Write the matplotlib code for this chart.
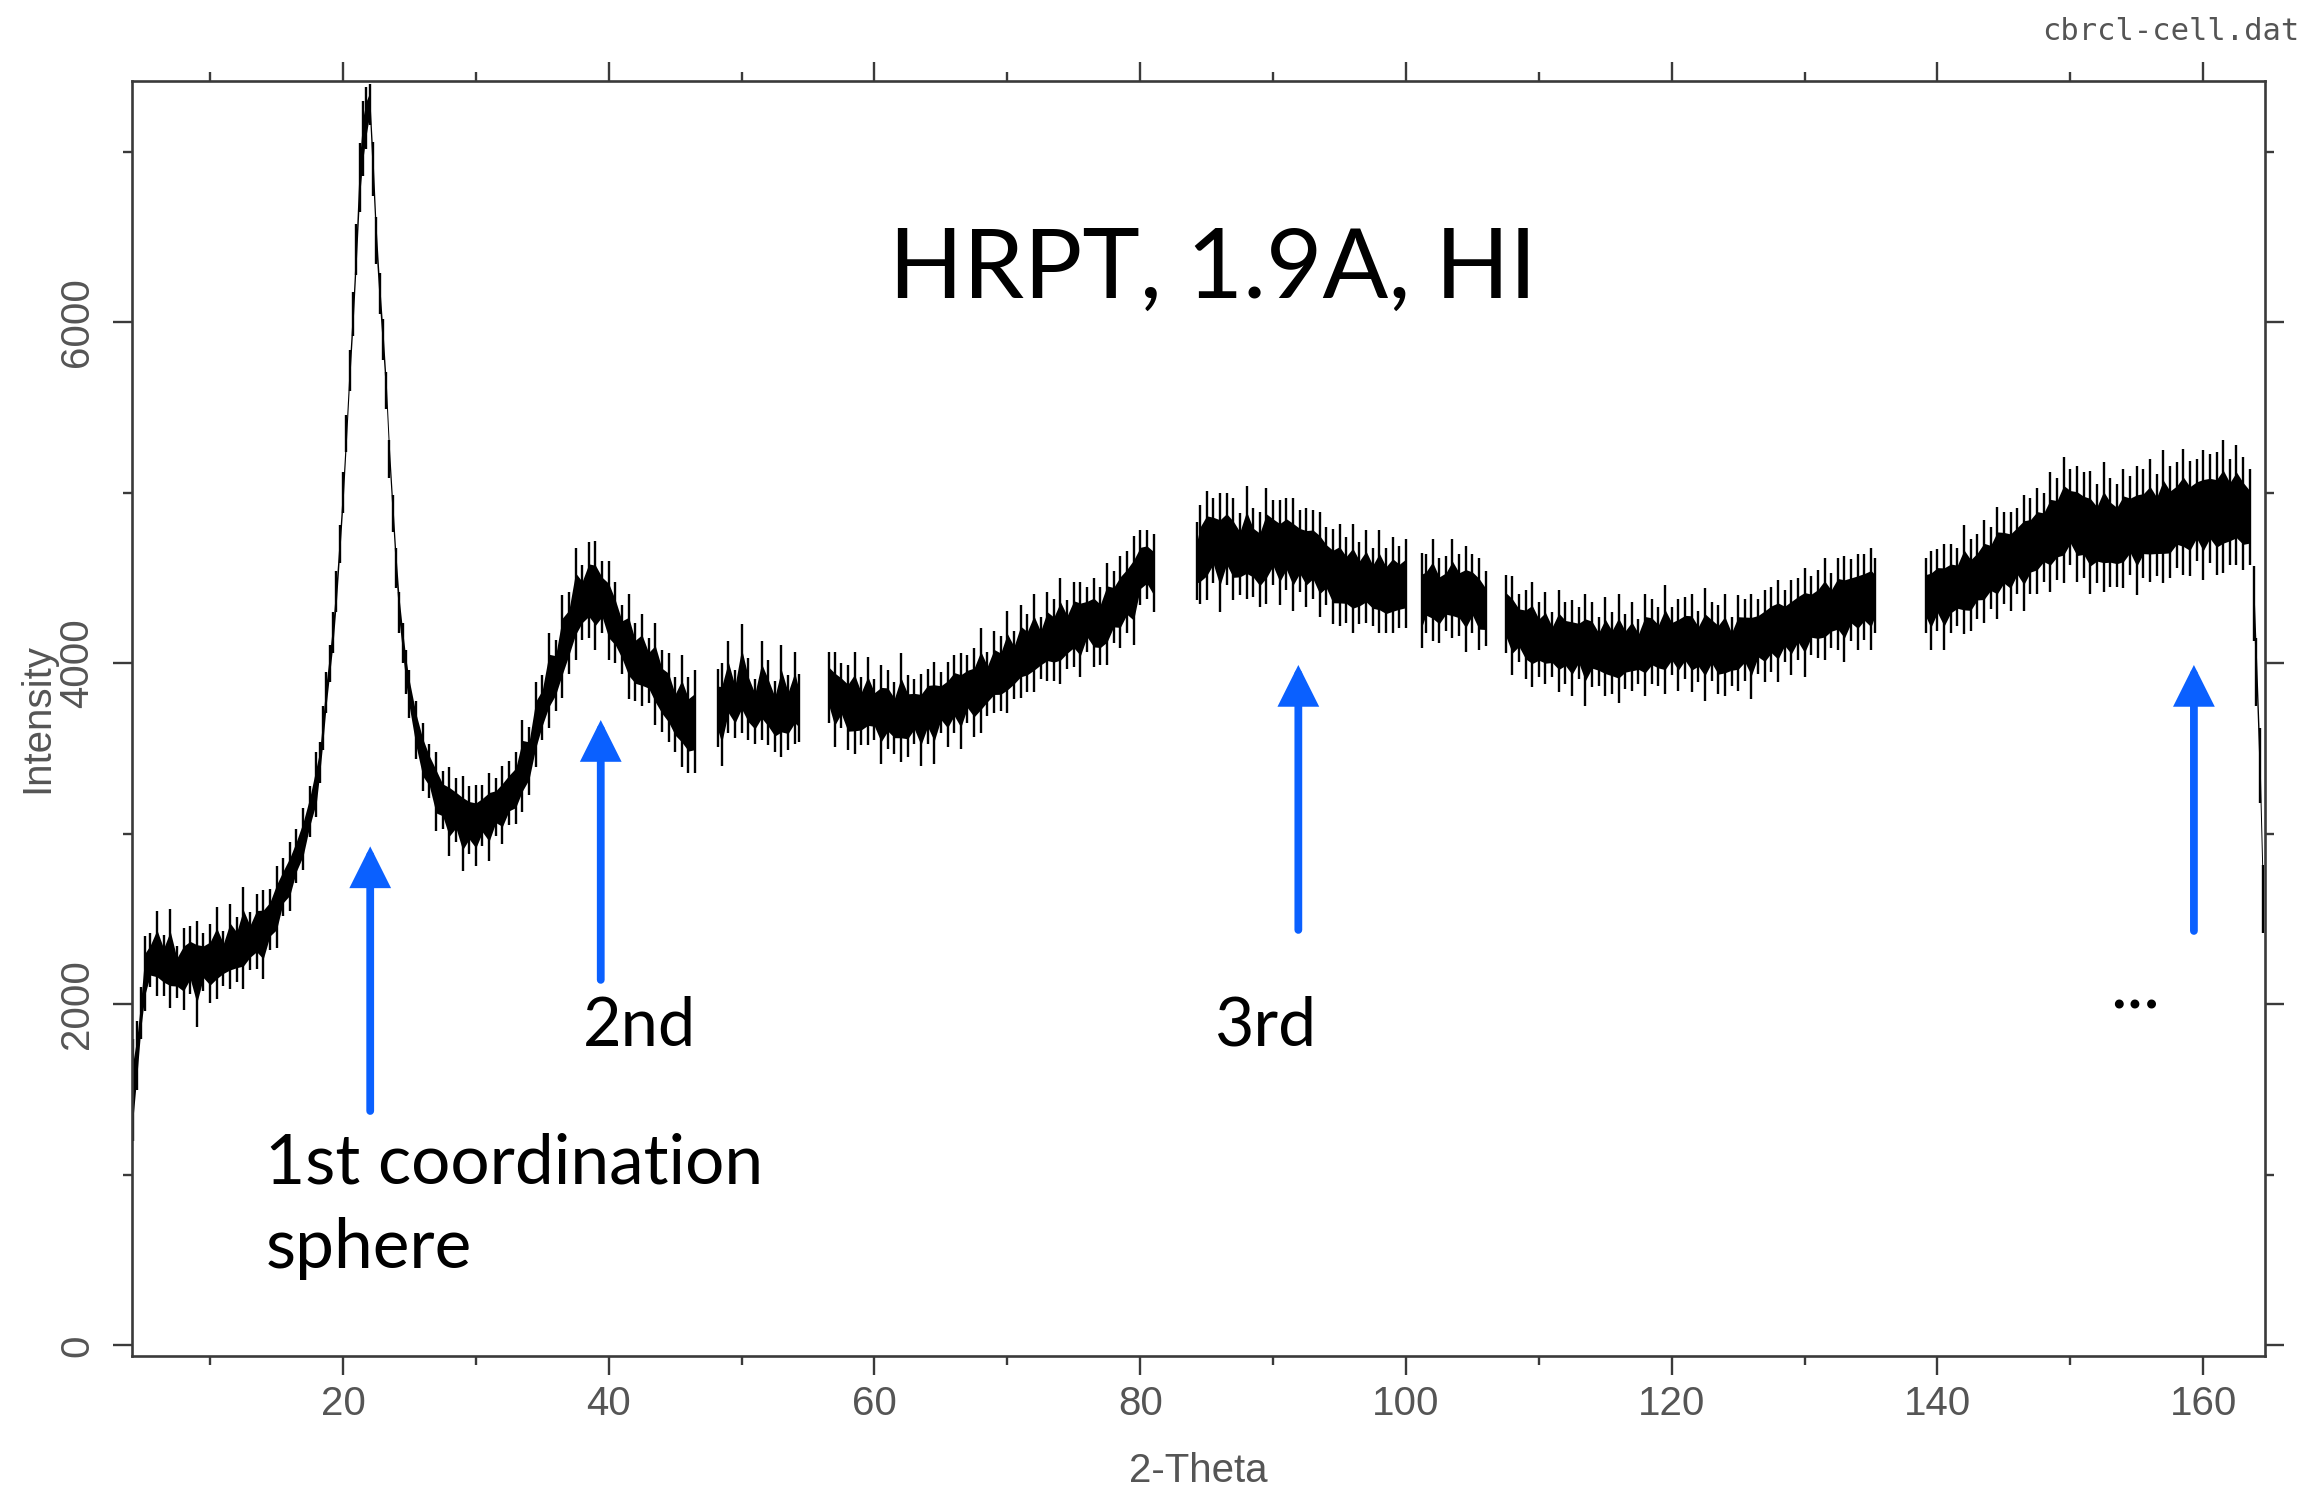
import numpy as np
import matplotlib
matplotlib.use("Agg")
import matplotlib.pyplot as plt
from matplotlib.ticker import MultipleLocator

# ---------------------------------------------------------------
# Powder pattern: 2-theta, intensity and the half-length of the
# (noisy) error bars.  Detector gaps split it into segments.
# ---------------------------------------------------------------
# 4 - 18 deg: low-angle background rising into the main peak
a1_theta = [4.2, 4.5, 4.8, 5.1, 5.5, 6.0, 6.5, 7.0, 7.5, 8.0,
            8.5, 9.0, 9.5, 10.0, 10.5, 11.0, 11.5, 12.0, 12.5, 13.0,
            13.5, 14.0, 14.5, 15.0, 15.5, 16.0, 16.5, 17.0, 17.5, 18.0]
a1_int = [1500, 1700, 1950, 2180, 2260, 2300, 2230, 2270, 2190, 2210,
          2260, 2180, 2250, 2240, 2300, 2270, 2340, 2320, 2390, 2370,
          2430, 2410, 2500, 2570, 2690, 2750, 2870, 2970, 3130, 3290]
a1_err = [300, 200, 150, 220, 160, 250, 180, 290, 150, 240,
          200, 310, 170, 230, 270, 160, 250, 190, 300, 170,
          220, 260, 180, 240, 170, 200, 160, 180, 150, 190]

# 18 - 25 deg: first coordination peak
a2_theta = [18.25, 18.5, 18.75, 19.0, 19.25, 19.5, 19.75, 20.0, 20.25, 20.5,
            20.75, 21.0, 21.25, 21.5, 21.75, 22.0, 22.25, 22.5, 22.75, 23.0,
            23.25, 23.5, 23.75, 24.0, 24.25, 24.5, 24.75, 25.0]
a2_int = [3420, 3620, 3830, 4000, 4180, 4420, 4700, 5000, 5350, 5720,
          6050, 6430, 6850, 7080, 7200, 7280, 6900, 6480, 6170, 5900,
          5600, 5200, 4880, 4560, 4300, 4120, 3950, 3820]
a2_err = [120, 130, 120, 110, 120, 120, 110, 120, 110, 120,
          130, 150, 200, 220, 180, 120, 160, 140, 120, 120,
          110, 110, 110, 120, 120, 120, 130, 140]

# 25.5 - 46.5 deg: minimum and second peak
a3_theta = [25.5, 26.0, 26.5, 27.0, 27.5, 28.0, 28.5, 29.0, 29.5, 30.0,
            30.5, 31.0, 31.5, 32.0, 32.5, 33.0, 33.5, 34.0, 34.5, 35.0,
            35.5, 36.0, 36.5, 37.0, 37.5, 38.0, 38.5, 39.0, 39.5, 40.0,
            40.5, 41.0, 41.5, 42.0, 42.5, 43.0, 43.5, 44.0, 44.5, 45.0,
            45.5, 46.0, 46.5]
a3_int = [3610, 3450, 3370, 3250, 3200, 3130, 3140, 3060, 3080, 3050,
          3110, 3100, 3160, 3170, 3240, 3270, 3400, 3430, 3640, 3740,
          3900, 3930, 4100, 4180, 4350, 4360, 4430, 4400, 4390, 4310,
          4240, 4140, 4100, 4010, 4020, 3960, 3940, 3840, 3800, 3700,
          3720, 3640, 3660]
a3_err = [170, 200, 160, 230, 170, 260, 190, 280, 200, 240,
          180, 260, 170, 230, 190, 210, 270, 200, 250, 190,
          280, 210, 300, 240, 330, 220, 280, 320, 210, 290,
          240, 200, 310, 230, 270, 190, 300, 240, 260, 220,
          330, 280, 300]

b_theta = [48.2, 48.5, 49.0, 49.5, 50.0, 50.5, 51.0, 51.5, 52.0, 52.5,
           53.0, 53.5, 54.0, 54.3]
b_int = [3740, 3700, 3860, 3760, 3910, 3790, 3720, 3840, 3770, 3690,
         3780, 3710, 3800, 3740]
b_err = [230, 300, 270, 200, 320, 240, 190, 290, 250, 210,
         330, 220, 270, 200]

c_theta = [56.6, 57.0, 57.5, 58.0, 58.5, 59.0, 59.5, 60.0, 60.5, 61.0,
           61.5, 62.0, 62.5, 63.0, 63.5, 64.0, 64.5, 65.0, 65.5, 66.0,
           66.5, 67.0, 67.5, 68.0, 68.5, 69.0, 69.5, 70.0, 70.5, 71.0,
           71.5, 72.0, 72.5, 73.0, 73.5, 74.0, 74.5, 75.0, 75.5, 76.0,
           76.5, 77.0, 77.5, 78.0, 78.5, 79.0, 79.5, 80.0, 80.5, 81.0]
c_int = [3860, 3790, 3810, 3740, 3770, 3720, 3780, 3730, 3700, 3730,
         3680, 3740, 3690, 3720, 3670, 3750, 3710, 3770, 3760, 3820,
         3780, 3850, 3830, 3900, 3880, 3950, 3940, 4010, 3990, 4070,
         4060, 4120, 4090, 4160, 4140, 4190, 4170, 4230, 4200, 4260,
         4240, 4220, 4290, 4330, 4360, 4420, 4430, 4560, 4580, 4530]
c_err = [210, 280, 190, 250, 300, 200, 260, 180, 290, 230,
         210, 320, 240, 190, 270, 220, 300, 180, 250, 230,
         280, 200, 260, 310, 190, 240, 220, 300, 200, 270,
         230, 290, 180, 260, 240, 310, 200, 250, 280, 190,
         260, 230, 300, 210, 270, 240, 320, 220, 200, 230]

d_theta = [84.3, 84.5, 85.0, 85.5, 86.0, 86.5, 87.0, 87.5, 88.0, 88.5,
           89.0, 89.5, 90.0, 90.5, 91.0, 91.5, 92.0, 92.5, 93.0, 93.5,
           94.0, 94.5, 95.0, 95.5, 96.0, 96.5, 97.0, 97.5, 98.0, 98.5,
           99.0, 99.5, 100.0]
d_int = [4600, 4640, 4690, 4720, 4650, 4730, 4670, 4640, 4710, 4650,
         4610, 4690, 4710, 4650, 4700, 4640, 4660, 4620, 4640, 4580,
         4570, 4510, 4520, 4490, 4500, 4470, 4510, 4450, 4480, 4430,
         4460, 4450, 4470]
d_err = [230, 290, 320, 250, 350, 270, 300, 240, 330, 260,
         280, 340, 250, 310, 270, 330, 240, 290, 260, 310,
         230, 280, 300, 250, 320, 240, 270, 230, 300, 250,
         280, 240, 260]

e_theta = [101.2, 101.5, 102.0, 102.5, 103.0, 103.5, 104.0, 104.5, 105.0,
           105.5, 106.0]
e_int = [4370, 4410, 4430, 4370, 4410, 4440, 4400, 4380, 4410, 4350, 4320]
e_err = [280, 230, 300, 250, 220, 290, 240, 310, 230, 270, 220]

f_theta = [107.5, 108.0, 108.5, 109.0, 109.5, 110.0, 110.5, 111.0, 111.5, 112.0,
           112.5, 113.0, 113.5, 114.0, 114.5, 115.0, 115.5, 116.0, 116.5, 117.0,
           117.5, 118.0, 118.5, 119.0, 119.5, 120.0, 120.5, 121.0, 121.5, 122.0,
           122.5, 123.0, 123.5, 124.0, 124.5, 125.0, 125.5, 126.0, 126.5, 127.0,
           127.5, 128.0, 128.5, 129.0, 129.5, 130.0, 130.5, 131.0, 131.5, 132.0,
           132.5, 133.0, 133.5, 134.0, 134.5, 135.0, 135.3]
f_int = [4290, 4220, 4210, 4170, 4170, 4140, 4150, 4110, 4130, 4120,
         4090, 4120, 4080, 4110, 4070, 4100, 4060, 4090, 4070, 4100,
         4070, 4110, 4130, 4100, 4140, 4130, 4110, 4150, 4120, 4100,
         4110, 4130, 4080, 4110, 4070, 4120, 4140, 4100, 4160, 4160,
         4200, 4190, 4220, 4210, 4260, 4240, 4280, 4290, 4320, 4310,
         4350, 4320, 4370, 4360, 4390, 4380, 4400]
f_err = [230, 290, 200, 260, 310, 220, 270, 190, 300, 240,
         280, 210, 330, 250, 200, 290, 240, 320, 220, 260,
         190, 300, 250, 230, 320, 200, 270, 240, 290, 210,
         330, 230, 260, 300, 200, 280, 240, 310, 220, 270,
         250, 300, 210, 280, 240, 320, 230, 260, 300, 220,
         270, 310, 240, 280, 250, 300, 220]

g_theta = [139.1, 139.5, 140.0, 140.5, 141.0, 141.5, 142.0, 142.5, 143.0, 143.5,
           144.0, 144.5, 145.0, 145.5, 146.0, 146.5, 147.0, 147.5, 148.0, 148.5,
           149.0, 149.5, 150.0, 150.5, 151.0, 151.5, 152.0, 152.5, 153.0, 153.5,
           154.0, 154.5, 155.0, 155.5, 156.0, 156.5, 157.0, 157.5, 158.0, 158.5,
           159.0, 159.5, 160.0, 160.5, 161.0, 161.5, 162.0, 162.5, 163.0, 163.5]
g_int = [4400, 4370, 4430, 4390, 4440, 4450, 4490, 4460, 4510, 4540,
         4560, 4590, 4620, 4600, 4660, 4650, 4690, 4720, 4740, 4770,
         4790, 4840, 4860, 4820, 4810, 4770, 4760, 4800, 4770, 4750,
         4790, 4810, 4780, 4820, 4840, 4810, 4860, 4830, 4870, 4890,
         4850, 4900, 4870, 4910, 4880, 4920, 4890, 4930, 4880, 4860]
g_err = [220, 290, 240, 310, 260, 230, 320, 270, 250, 300,
         240, 330, 270, 290, 250, 340, 280, 310, 260, 350,
         300, 370, 280, 340, 310, 360, 290, 380, 320, 300,
         350, 290, 380, 320, 360, 300, 390, 330, 310, 370,
         340, 300, 380, 320, 360, 390, 310, 350, 330, 280]

# last channels at the high-angle edge of the detector
h_theta = [163.8, 164.0, 164.25, 164.5]
h_int = [4350, 3950, 3400, 2620]
h_err = [220, 200, 220, 200]

segments = [
    (a1_theta + a2_theta + a3_theta, a1_int + a2_int + a3_int, a1_err + a2_err + a3_err),
    (b_theta, b_int, b_err),
    (c_theta, c_int, c_err),
    (d_theta, d_int, d_err),
    (e_theta, e_int, e_err),
    (f_theta, f_int, f_err),
    (g_theta, g_int, g_err),
    (h_theta, h_int, h_err),
]

# coordination-shell markers: 2-theta, arrow tail and arrow tip intensity
shell_theta = [22.05, 39.4, 91.9, 159.3]
shell_tail = [1375, 2144, 2437, 2431]
shell_tip = [2927, 3668, 3991, 3991]

x_ticks = [20, 40, 60, 80, 100, 120, 140, 160]
y_ticks = [0, 2000, 4000, 6000]

# ---------------------------------------------------------------
W, H, DPI = 2316, 1486, 100
fig = plt.figure(figsize=(W / DPI, H / DPI), dpi=DPI, facecolor="white")
ax = fig.add_axes([131.7 / W, 1 - 1356 / H, (2265 - 131.7) / W, (1356 - 80.7) / H])

ink = "black"
for th, it, er in segments:
    th = np.asarray(th, float)
    it = np.asarray(it, float)
    er = np.asarray(er, float)
    ax.vlines(th, it - er, it + er, color=ink, lw=1.7)
    ax.fill_between(th, it - 0.55 * er, it + 0.55 * er, color=ink, lw=0)

ax.set_xlim(4.1, 164.65)
ax.set_ylim(-62, 7418)

# frame and ticks
spine_col = "#3a3a3a"
for sp in ax.spines.values():
    sp.set_linewidth(1.9)
    sp.set_color(spine_col)

ax.xaxis.set_minor_locator(MultipleLocator(10))
ax.yaxis.set_minor_locator(MultipleLocator(1000))
ax.set_xticks(x_ticks)
ax.set_yticks(y_ticks)
ax.tick_params(which="both", direction="out", top=True, right=True,
               labeltop=False, labelright=False, width=1.7, color=spine_col)
ax.tick_params(which="major", length=13.7)
ax.tick_params(which="minor", length=6.8)
ax.tick_params(axis="x", which="major", pad=7)
ax.tick_params(axis="y", which="major", pad=12, labelrotation=90)

label_font = "Liberation Sans"
label_col = "#555555"
for lab in ax.get_xticklabels() + ax.get_yticklabels():
    lab.set_fontfamily(label_font)
    lab.set_fontsize(29)
    lab.set_color(label_col)
for lab in ax.get_yticklabels():
    lab.set_verticalalignment("center")

ax.set_xlabel("2-Theta", fontfamily=label_font, fontsize=29, color=label_col)
ax.xaxis.set_label_coords(0.5, -0.0753)
ax.set_ylabel("Intensity", fontfamily=label_font, fontsize=29, color=label_col)
ax.yaxis.set_label_coords(-0.0444, 0.5)
ax.yaxis.label.set_verticalalignment("center")

fig.text(2299 / W, 1 - 40 / H, "cbrcl-cell.dat", ha="right", va="baseline",
         fontfamily="DejaVu Sans Mono", fontsize=22, color=label_col)

# arrows marking the coordination shells
arrow_col = "#0a60ff"
for th, tail, tip in zip(shell_theta, shell_tail, shell_tip):
    ax.annotate("", xy=(th, tip), xytext=(th, tail),
                arrowprops=dict(arrowstyle="-|>,head_length=21,head_width=10.5",
                                mutation_scale=1, lw=5.6, color=arrow_col,
                                shrinkA=0, shrinkB=0, joinstyle="miter"))

ann_font = "Lato"
ax.text(85.5, 6144, "HRPT, 1.9A, HI", ha="center", va="baseline",
        fontfamily=ann_font, fontsize=70, color="black")
ax.text(38.05, 1757, "2nd", ha="left", va="baseline",
        fontfamily=ann_font, fontsize=48, color="black")
ax.text(85.56, 1757, "3rd", ha="left", va="baseline",
        fontfamily=ann_font, fontsize=49, color="black")
ax.text(154.9, 1979, "...", ha="center", va="baseline",
        fontfamily=ann_font, fontsize=51, color="black")
ax.text(14.15, 455, "1st coordination\nsphere", ha="left", va="baseline",
        fontfamily=ann_font, fontsize=50, color="black", linespacing=1.42)

fig.savefig("out.png", dpi=DPI, facecolor="white")
